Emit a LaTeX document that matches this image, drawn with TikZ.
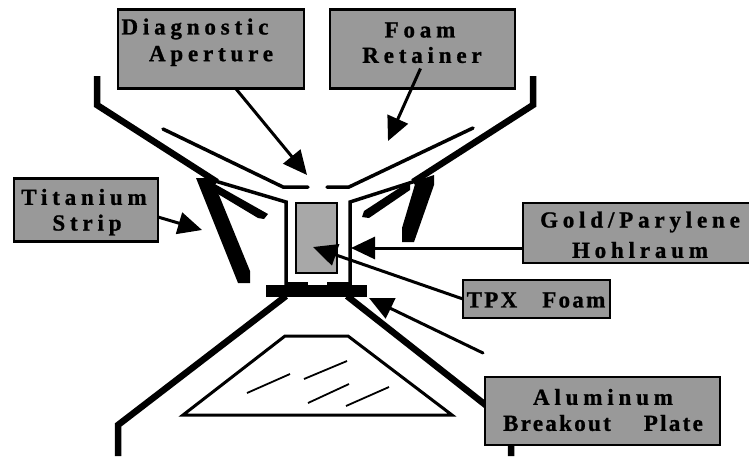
\documentclass[tikz,border=0pt]{standalone}
\usepackage{fontspec}
\setmainfont{Liberation Serif}
\newfontfamily\widefont[LetterSpace=21,BoldFeatures={FakeBold=1}]{Liberation Serif}
\newfontfamily\tightfont[LetterSpace=10,BoldFeatures={FakeBold=1}]{Liberation Serif}
\usetikzlibrary{arrows.meta}
\definecolor{boxgray}{gray}{0.60}
\definecolor{foamgray}{gray}{0.66}
\tikzset{
  x=1pt,y=-1pt,
  graybox/.style={draw=black,line width=2.6pt,fill=boxgray,inner sep=0pt,outer sep=0pt},
  lbl/.style={inner sep=0pt,font=\widefont\bfseries\fontsize{23}{23}\selectfont,text=black},
  lbltight/.style={inner sep=0pt,font=\tightfont\bfseries\fontsize{23}{23}\selectfont,text=black},
  pointer/.style={line width=3pt,-{Triangle[length=24pt,width=22pt]},shorten >=0pt},
  heavy/.style={line width=6.5pt,line join=miter},
  medium/.style={line width=3.5pt,line join=miter},
  hatch/.style={line width=1.8pt},
}
\begin{document}
\begin{tikzpicture}
\useasboundingbox (0,0) rectangle (749,456);
\clip (0,0) rectangle (749,456);
% outer shell
\draw[heavy] (97,76) -- (97,105) -- (217,182);
\draw[heavy] (533,76) -- (533,105) -- (413,182);
% aperture plate
\draw[medium,line cap=round] (163,129) -- (283,187) -- (308,187);
\draw[medium,line cap=round] (473,128) -- (349,187) -- (327,187);
% hohlraum
\draw[medium] (205,178) -- (286,202) -- (286,285);
\draw[medium] (425,178) -- (350,202) -- (350,285);
\draw[medium] (286,284) -- (308,284);
\draw[medium] (327,284) -- (350,284);
\node[draw=black,line width=1.6pt,fill=foamgray,minimum width=41pt,minimum height=70pt,inner sep=0pt,outer sep=0pt] (foamcore) at (316.5,238) {};
% titanium strips
\fill (196,178) -- (212,178) -- (250,271) -- (250,283) -- (238,283) -- cycle;
\fill (416,181) -- (434,175) -- (434,185) -- (414,242) -- (402,242) -- (402,228) -- cycle;
\fill (213,183) -- (268,214) -- (264,219) -- (258,218) -- (213,191) -- cycle;
\fill (410,181) -- (410,190) -- (369,218) -- (362,217) -- (364,211) -- cycle;
% breakout plate
\node[fill=black,minimum width=101pt,minimum height=12pt,inner sep=0pt,outer sep=0pt] (plate) at (316.5,291) {};
% lower housing
\draw[heavy] (118,456) -- (118,425) -- (286,296);
\draw[heavy] (347,296) -- (511,425) -- (511,456);
% trapezoid
\draw[line width=3pt,line join=miter] (183,415) -- (285,336) -- (348,336) -- (452,415) -- cycle;
\draw[hatch] (247,393) -- (290,374);
\draw[hatch] (304,379) -- (347,361);
\draw[hatch] (308,403) -- (349,384);
\draw[hatch] (346,406) -- (389,387);
% label boxes
\node[graybox,minimum width=186pt,minimum height=79pt] (diag) at (211,49) {};
\node[graybox,minimum width=185pt,minimum height=79pt] (foam) at (422.5,49) {};
\node[graybox,minimum width=144pt,minimum height=63pt] (tit) at (86,210) {};
\node[graybox,minimum width=240pt,minimum height=60pt] (gold) at (643,233) {};
\node[graybox,minimum width=147pt,minimum height=38pt] (tpx) at (536.5,299) {};
\node[graybox,minimum width=235pt,minimum height=68pt] (alum) at (602.5,411) {};
% label texts
\node[lbl] (t1) at (195,29) {Diagnostic};
\node[lbl] (t2) at (211,56) {Aperture};
\node[lbl] (t3) at (420,30) {Foam};
\node[lbl] (t4) at (422,55) {Retainer};
\node[lbl] (t5) at (84,197) {Titanium};
\node[lbl] (t6) at (87,225) {Strip};
\node[lbl] (t7) at (640,222) {Gold/Parylene};
\node[lbl] (t8) at (640,250) {Hohlraum};
\node[lbltight] (t9) at (536,300) {TPX\hspace{25pt}Foam};
\node[lbl] (t10) at (603,397) {Aluminum};
\node[lbltight] (t11) at (603,423) {Breakout\hspace{33pt}Plate};
% pointers
\coordinate (tipdiag) at (307,175);
\coordinate (tipfoam) at (388,141);
\coordinate (tiptit) at (202,230);
\coordinate (tipgold) at (351,248);
\coordinate (tiptpx) at (313,247);
\coordinate (tipalum) at (369,298);
\coordinate (startalum) at (483,353);
\draw[pointer] (diag.-58) -- (tipdiag);
\draw[pointer] ([shift={(-2,-20)}]foam.south) -- (tipfoam);
\draw[pointer] ([shift={(0,7)}]tit.east) -- (tiptit);
\draw[pointer] ([shift={(0,15)}]gold.west) -- (tipgold);
\draw[pointer] (tpx.west) -- (tiptpx);
\draw[pointer,line cap=round] (startalum) -- (tipalum);
\end{tikzpicture}
\end{document}
